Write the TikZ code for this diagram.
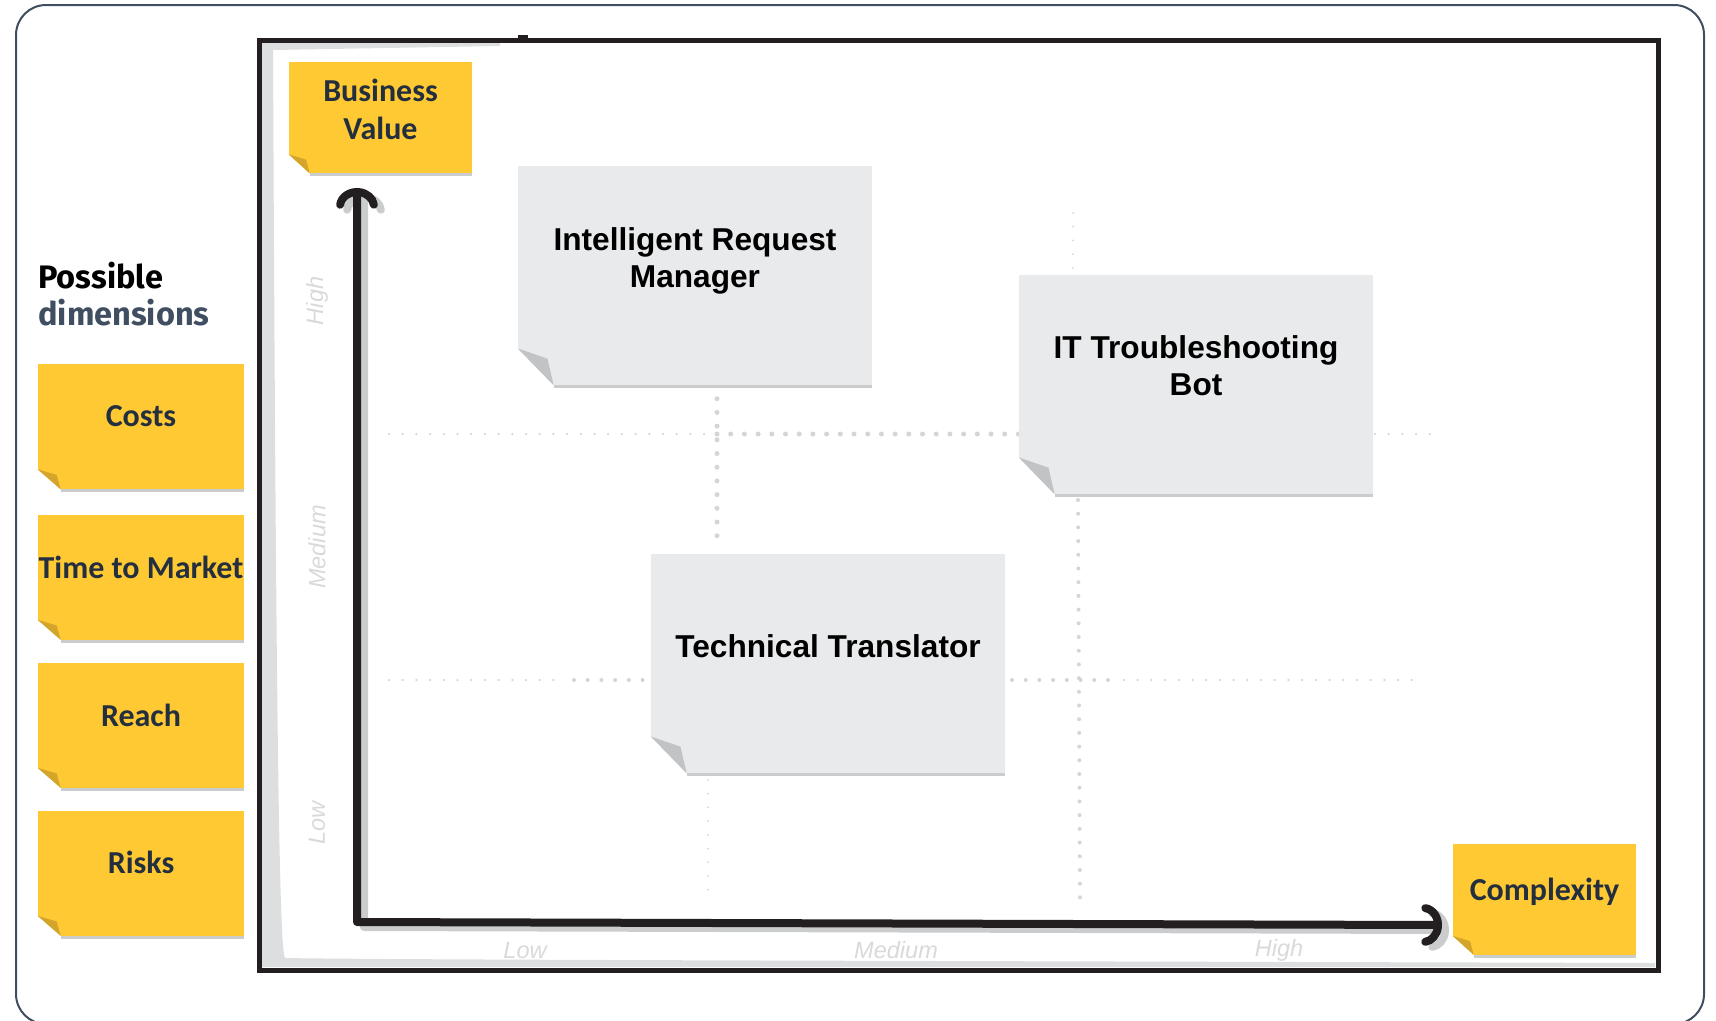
\documentclass[tikz,border=0pt]{standalone}
\usepackage{fontspec}
\usetikzlibrary{calc,arrows.meta}

\newfontfamily\notefont{Carlito}
\newfontfamily\cardfont{Liberation Sans}
\newfontfamily\headfont{Fira Sans}

\definecolor{noteyellow}{HTML}{FFC933}
\definecolor{notefold}{HTML}{D4A52B}
\definecolor{cardgray}{HTML}{E9EAEC}
\definecolor{cardfold}{HTML}{C2C3C5}
\definecolor{shadowgray}{HTML}{CBCCCE}
\definecolor{inkblue}{HTML}{232F3E}
\definecolor{slate}{HTML}{3F4E60}
\definecolor{bandgray}{HTML}{DDDEDF}
\definecolor{dotgray}{HTML}{D4D5D7}
\definecolor{labelgray}{HTML}{D8D9DB}
\definecolor{boardblack}{HTML}{231F20}

\tikzset{
  yellownote/.style={fill=noteyellow, inner sep=0, minimum width=41.2mm, minimum height=25mm},
  axisnote/.style={yellownote, minimum width=36.6mm, minimum height=22.2mm},
  card/.style={fill=cardgray, inner sep=0, minimum width=70.8mm, minimum height=43.8mm},
  notetext/.style={inner sep=0, text=inkblue, align=center, font=\notefont\bfseries\fontsize{18.2}{21.6}\selectfont},
  cardtext/.style={inner sep=0, text=black, align=center, font=\cardfont\bfseries\fontsize{18}{21}\selectfont},
  headtext/.style={inner sep=0, font=\headfont\bfseries\fontsize{18.5}{21}\selectfont},
  axislabel/.style={inner sep=0, text=labelgray, font=\cardfont\itshape\fontsize{13.4}{15}\selectfont},
  griddots/.style={dotgray, line cap=round, dash pattern=on 0pt off 2.74mm, line width=#1},
  barb/.tip={Arc Barb[arc=165, width=8.4mm, line cap=round]},
  axisline/.style={line width=1.6mm, line cap=round, line join=round, barb-barb},
}

% folded corner and shadow under a note
\newcommand{\curl}[4]{%
  \fill[white] (#1.south west) -- ++(0,-#3) -- ++(#2,#3) -- cycle;
  \fill[#4] ($(#1.south west)+(0,-#3)$) -- ($(#1.south west)+({0.83*#2},{-0.72*#3})$)
    -- ($(#1.south west)+(#2,0)$) -- cycle;
  \fill[shadowgray] ($(#1.south west)+(#2,0)$) rectangle ($(#1.south east)+(0,3)$);
}

\begin{document}
\begin{tikzpicture}[x=0.2mm, y=-0.2mm]
\useasboundingbox (0,0) rectangle (1716,1020);
\draw[slate, line width=0.4mm, rounded corners=6mm] (16,5) rectangle (1704,1024);

% heading
\node[headtext, anchor=base west] (possible) at (38,288) {Possible};
\node[headtext, text=slate, anchor=base west] (dimensions) at (38,325) {dimensions};

% dimension notes
\node[yellownote] (costs) at (141,426.5) {};
\node[yellownote] (market) at (141,577) {};
\node[yellownote] (reach) at (141,725) {};
\node[yellownote] (risks) at (141,873) {};
\curl{costs}{23}{20}{notefold}
\curl{market}{23}{20}{notefold}
\curl{reach}{23}{20}{notefold}
\curl{risks}{23}{20}{notefold}
\node[notetext] (costs-t) at (141,416) {Costs};
\node[notetext] (market-t) at (141,567) {Time to Market};
\node[notetext] (reach-t) at (141,715) {Reach};
\node[notetext] (risks-t) at (141,862) {Risks};

% board
\fill[bandgray] (262,43) -- (262,967) -- (1655,967) -- (1655,963)
  .. controls (1000,961) and (400,960) .. (285,958)
  .. controls (279,950) and (276,700) .. (273,50) -- (500,46) -- (500,43) -- cycle;
\draw[boardblack, line width=1mm] (259,40) rectangle (1658,970);
\fill[boardblack] (518,35) rectangle (528,41);

% grid
\draw[griddots=0.5mm] (389,434) -- (710,434);
\draw[griddots=1mm] (717,434) -- (1019,434);
\draw[griddots=0.5mm] (1375,434) -- (1430,434);
\draw[griddots=0.5mm] (389,680) -- (560,680);
\draw[griddots=0.8mm] (574,680) -- (646,680);
\draw[griddots=0.8mm] (1012,680) -- (1110,680);
\draw[griddots=0.5mm] (1124,680) -- (1412,680);
\draw[griddots=1mm] (717,385) -- (717,547);
\draw[griddots=0.4mm] (708,780) -- (708,903);
\draw[griddots=0.4mm] (1073,213) -- (1073,274);
\draw[griddots=0.8mm] (1078,500) -- (1080,903);

% scale labels
\node[axislabel, rotate=90] (v-high) at (317,301) {High};
\node[axislabel, rotate=90] (v-medium) at (317,547) {Medium};
\node[axislabel, rotate=90] (v-low) at (317,823) {Low};
\node[axislabel] (h-low) at (525,950) {Low};
\node[axislabel] (h-medium) at (896,950) {Medium};
\node[axislabel] (h-high) at (1279,950) {High};

% axes
\coordinate (origin) at (357,922);
\coordinate (value-tip) at (357,188);
\coordinate (cplx-tip) at (1442,925);
\draw[axisline, shadowgray] ($(value-tip)+(7,5)$) -- ($(origin)+(7,5)$) -- ($(cplx-tip)+(7,5)$);
\draw[axisline, boardblack] (value-tip) -- (origin) -- (cplx-tip);

% axis notes
\node[axisnote] (value) at (380.5,117.5) {};
\node[axisnote] (cplx) at (1544.5,899) {};
\curl{value}{21}{19}{notefold}
\curl{cplx}{21}{19}{notefold}
\node[notetext] (value-t) at (380.5,109) {Business\\Value};
\node[notetext] (cplx-t) at (1544.5,892) {Complexity};

% use cases
\node[card] (irm) at (695,275.5) {};
\node[card] (itbot) at (1196,384.5) {};
\node[card] (translator) at (828,663.5) {};
\curl{irm}{36}{37}{cardfold}
\curl{itbot}{36}{37}{cardfold}
\curl{translator}{36}{37}{cardfold}
\node[cardtext] (irm-t) at (695,261) {Intelligent Request\\Manager};
\node[cardtext] (itbot-t) at (1196,366) {IT Troubleshooting\\Bot};
\node[cardtext] (translator-t) at (828,646) {Technical Translator};
\end{tikzpicture}
\end{document}
